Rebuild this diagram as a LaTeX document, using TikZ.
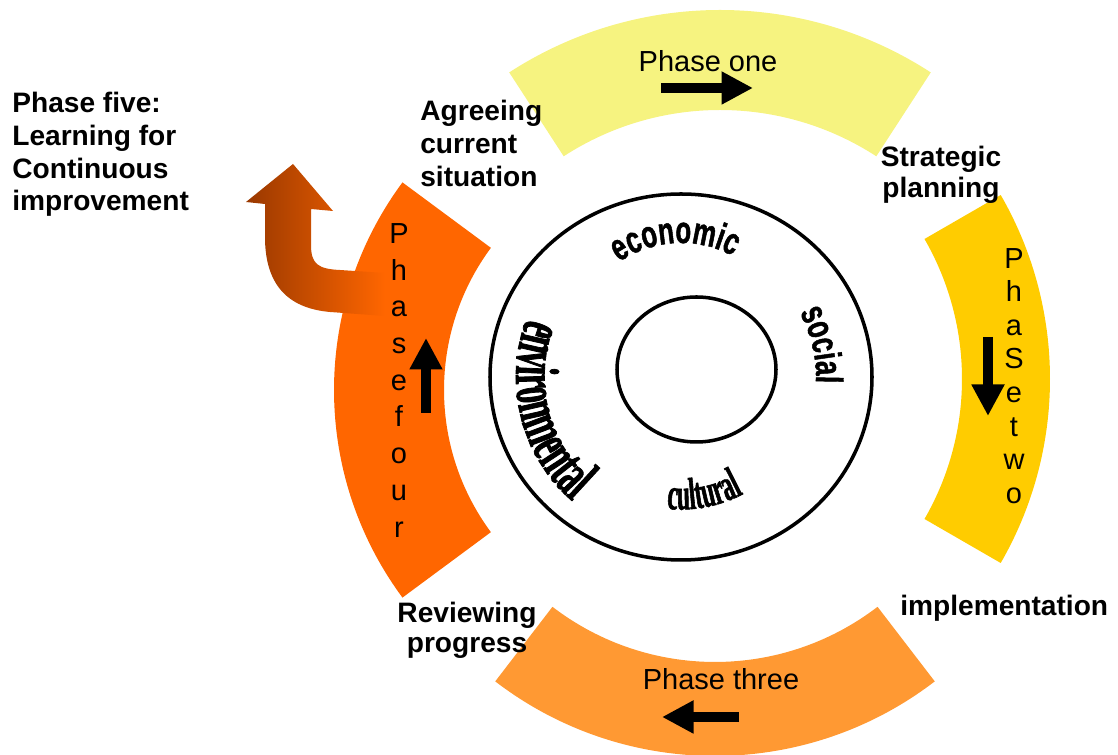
\documentclass[tikz,border=0pt]{standalone}
\usepackage{fontspec}
\setmainfont{Liberation Sans}
\newfontfamily\ringsans[FakeStretch=0.68,BoldFeatures={FakeBold=1.2}]{Liberation Sans}
\newfontfamily\ringserif[FakeStretch=0.52,BoldFeatures={FakeBold=1.2}]{Liberation Serif}
\usetikzlibrary{arrows.meta,decorations.text}
\definecolor{phaseone}{RGB}{246,243,128}
\definecolor{phasetwo}{RGB}{255,204,0}
\definecolor{phasethree}{RGB}{255,153,51}
\definecolor{phasefour}{RGB}{255,102,0}
\definecolor{rust}{RGB}{153,56,0}

\begin{document}
\begin{tikzpicture}[
  phasetxt/.style={inner sep=0pt, font=\fontsize{16.5}{19}\selectfont},
  stagetxt/.style={inner sep=0pt, align=left, font=\bfseries\fontsize{16}{18.6}\selectfont},
  blockarrow/.style={line width=0.2cm, -{Triangle[width=0.62cm,length=0.63cm]}}
]
\useasboundingbox (0,0) rectangle (22.36,15.1);

\fill [phaseone] ([shift={(57:7.74)}]14.40,7.16) arc [start angle=57, end angle=123, radius=7.74]
  -- ([shift={(123:5.74)}]14.40,7.16) arc [start angle=123, end angle=57, radius=5.74] -- cycle;
\fill [phasetwo] ([shift={(-30:7.36)}]13.64,7.52) arc [start angle=-30, end angle=30, radius=7.36]
  -- ([shift={(30:5.6)}]13.64,7.52) arc [start angle=30, end angle=-30, radius=5.6] -- cycle;
\fill [phasethree] ([shift={(-127.5:7.22)}]14.30,7.20) arc [start angle=-127.5, end angle=-52.5, radius=7.22]
  -- ([shift={(-52.5:5.34)}]14.30,7.20) arc [start angle=-52.5, end angle=-127.5, radius=5.34] -- cycle;
\fill [phasefour] ([shift={(143.5:6.98)}]13.66,7.30) arc [start angle=143.5, end angle=216.5, radius=6.98]
  -- ([shift={(216.5:4.78)}]13.66,7.30) arc [start angle=216.5, end angle=143.5, radius=4.78] -- cycle;

\shade [left color=rust, right color=phasefour] (7.70,8.78) -- (6.60,8.86)
  .. controls (5.70,8.94) and (5.32,9.46) .. (5.30,10.30) -- (5.30,11.02)
  -- (4.92,11.06) -- (5.86,11.82) -- (6.66,10.88) -- (6.22,10.92) -- (6.22,10.20)
  .. controls (6.22,9.82) and (6.36,9.72) .. (6.80,9.70) -- (7.70,9.64) -- cycle;

\draw [blockarrow] (13.22,13.34) -- (15.06,13.34);
\draw [blockarrow] (19.76,8.36) -- (19.76,6.78);
\draw [blockarrow] (14.78,0.76) -- (13.24,0.76);
\draw [blockarrow] (8.52,6.84) -- (8.52,8.34);

\draw [line width=2pt] (13.62,7.56) ellipse [x radius=3.82, y radius=3.66];
\draw [line width=2pt] (13.93,7.71) ellipse [x radius=1.59, y radius=1.45];

\path [decorate, decoration={text along path, text align=center,
  text={|\ringsans\bfseries\fontsize{21.6}{24}\selectfont|economic}}]
  ([shift={(150:2.2)}]13.62,8.04) arc [start angle=150, end angle=36, radius=2.2];
\path [decorate, decoration={text along path, text align=center,
  text={|\ringsans\bfseries\fontsize{21.6}{24}\selectfont|social}}]
  ([shift={(48:2.7)}]13.62,7.56) arc [start angle=48, end angle=-22, radius=2.7];
\path [decorate, decoration={text along path, text align=center,
  text={|\ringserif\bfseries\fontsize{35.3}{38}\selectfont|environmental}}]
  ([shift={(150:3.3)}]13.62,7.56) arc [start angle=150, end angle=238, radius=3.3];
\path [decorate, decoration={text along path, text align=center,
  text={|\ringserif\bfseries\fontsize{25.6}{28}\selectfont|cultural}}]
  ([shift={(-120:2.65)}]13.62,7.56) arc [start angle=-120, end angle=-38, radius=2.65];

\node [phasetxt, anchor=base] (one) at (14.16,13.66) {Phase one};
\node [phasetxt, anchor=base] (three) at (14.42,1.30) {Phase three};
\node [phasetxt, anchor=north, align=center, font=\fontsize{16.5}{19.1}\selectfont] (two) at (20.28,10.14) {P\\h\\a\\S\\e\\t\\w\\o};
\node [phasetxt, anchor=north, align=center, font=\fontsize{16.5}{20.9}\selectfont] (four) at (7.98,10.64) {P\\h\\a\\s\\e\\f\\o\\u\\r};

\node [stagetxt, anchor=north west] (five) at (0.24,13.26) {Phase five:\\Learning for\\Continuous\\improvement};
\node [stagetxt, anchor=north west] (agree) at (8.40,13.10) {Agreeing\\current\\situation};
\node [stagetxt, anchor=north, align=center, font=\bfseries\fontsize{16}{17.3}\selectfont] (strat) at (18.82,12.18) {Strategic\\planning};
\node [stagetxt, anchor=north, align=center, font=\bfseries\fontsize{16}{17.1}\selectfont] (review) at (9.34,3.06) {Reviewing\\progress};
\node [stagetxt, anchor=base west] (impl) at (18.00,2.78) {implementation};

\end{tikzpicture}
\end{document}
